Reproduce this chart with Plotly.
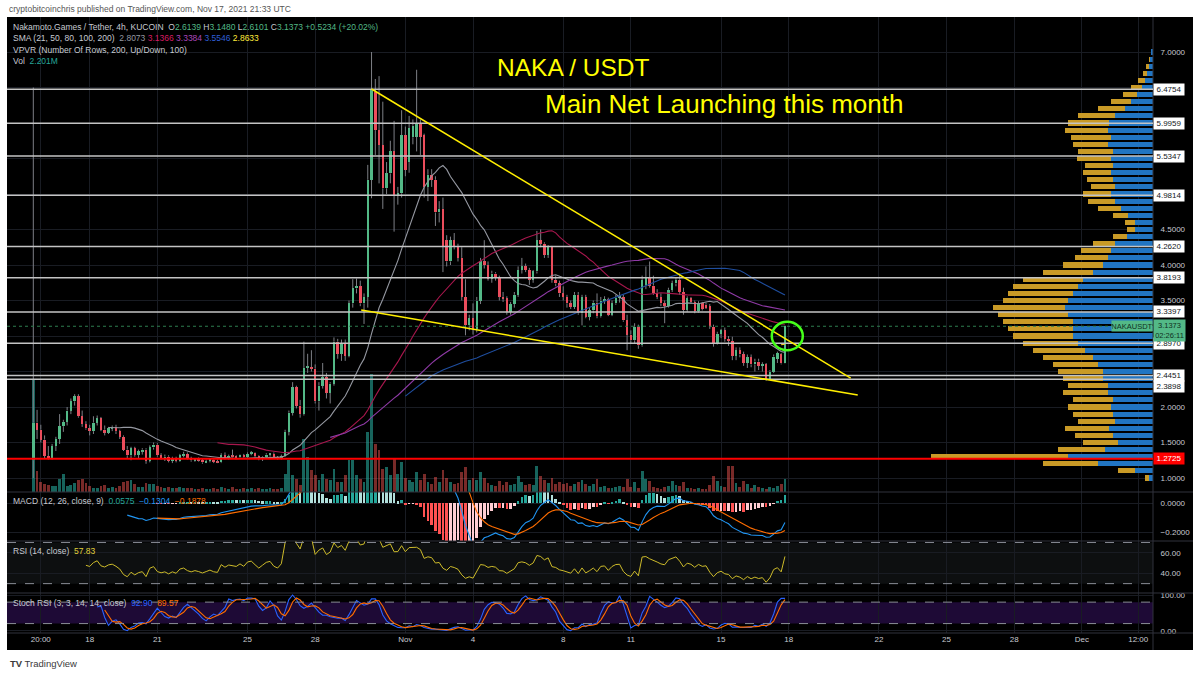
import numpy as np
import pandas as pd
import plotly.graph_objects as go

# ------------------------------------------------------------------ data
bar_times = pd.date_range("2021-10-15 12:00", periods=201, freq="4h")

opens = [
    1.25, 1.78, 1.68, 1.54, 1.31, 1.28, 1.45, 1.55, 1.73, 1.79,
    1.95, 2.08, 2.15, 1.87, 1.76, 1.70, 1.66, 1.78, 1.84, 1.68,
    1.64, 1.70, 1.72, 1.66, 1.58, 1.40, 1.32, 1.42, 1.33, 1.38,
    1.40, 1.24, 1.43, 1.47, 1.32, 1.28, 1.30, 1.24, 1.28, 1.24,
    1.32, 1.34, 1.28, 1.25, 1.27, 1.25, 1.22, 1.24, 1.26, 1.23,
    1.22, 1.32, 1.28, 1.31, 1.30, 1.29, 1.32, 1.29, 1.34, 1.35,
    1.31, 1.27, 1.30, 1.33, 1.34, 1.29, 1.27, 1.31, 1.65, 1.92,
    2.28, 2.02, 1.90, 2.55, 2.56, 2.54, 2.08, 2.30, 2.42, 2.20,
    2.33, 2.92, 2.75, 2.90, 2.72, 3.46, 3.67, 3.70, 3.46, 3.55,
    5.20, 6.44, 5.90, 5.69, 5.08, 5.29, 5.60, 4.99, 5.01, 5.83,
    5.45, 5.80, 5.81, 5.98, 5.83, 5.10, 5.27, 5.20, 4.74, 4.79,
    4.35, 4.05, 4.35, 4.26, 4.10, 3.55, 3.15, 3.25, 3.10, 3.50,
    4.05, 4.00, 3.81, 3.88, 3.82, 3.55, 3.53, 3.34, 3.45, 3.58,
    3.93, 3.98, 3.93, 3.79, 3.91, 4.35, 4.30, 4.14, 4.25, 3.79,
    3.74, 3.60, 3.55, 3.46, 3.41, 3.58, 3.32, 3.55, 3.27, 3.36,
    3.47, 3.28, 3.50, 3.52, 3.30, 3.46, 3.54, 3.55, 3.22, 3.02,
    2.94, 3.13, 2.87, 3.72, 3.82, 3.71, 3.61, 3.55, 3.46, 3.42,
    3.65, 3.74, 3.79, 3.62, 3.37, 3.53, 3.48, 3.35, 3.46, 3.44,
    3.42, 3.13, 2.90, 3.03, 3.08, 2.96, 2.93, 2.72, 2.80, 2.74,
    2.62, 2.70, 2.60, 2.64, 2.58, 2.60, 2.40, 2.50, 2.68, 2.74,
    2.6139,
]
highs = [
    6.50, 1.96, 1.75, 1.60, 1.45, 1.48, 1.58, 1.90, 1.82, 2.00,
    2.12, 2.18, 2.18, 1.95, 1.80, 1.75, 1.87, 1.88, 1.86, 1.74,
    1.72, 1.74, 1.75, 1.68, 1.60, 1.45, 1.44, 1.44, 1.40, 1.42,
    1.42, 1.46, 1.50, 1.49, 1.35, 1.33, 1.32, 1.30, 1.30, 1.34,
    1.37, 1.36, 1.30, 1.28, 1.29, 1.27, 1.26, 1.27, 1.27, 1.26,
    1.35, 1.36, 1.33, 1.40, 1.32, 1.33, 1.34, 1.36, 1.38, 1.36,
    1.32, 1.31, 1.35, 1.35, 1.36, 1.31, 1.33, 1.68, 1.95, 2.35,
    2.30, 2.10, 2.92, 2.75, 2.80, 2.60, 2.35, 2.62, 2.48, 2.35,
    2.98, 2.96, 2.95, 2.95, 3.50, 3.80, 3.81, 3.78, 3.60, 5.41,
    7.00, 6.62, 6.66, 6.30, 5.45, 5.75, 6.03, 5.10, 6.18, 5.95,
    6.10, 6.05, 6.75, 6.05, 5.85, 5.35, 5.35, 5.25, 4.90, 4.95,
    4.42, 4.40, 4.45, 4.30, 4.25, 3.80, 3.30, 3.46, 3.55, 4.10,
    4.35, 4.05, 3.92, 3.90, 3.85, 3.62, 3.56, 3.48, 3.62, 3.98,
    4.10, 4.02, 3.96, 3.93, 4.48, 4.50, 4.32, 4.28, 4.27, 3.85,
    3.78, 3.70, 3.58, 3.50, 3.62, 3.62, 3.58, 3.58, 3.40, 3.50,
    3.60, 3.55, 3.56, 3.54, 3.50, 3.58, 3.62, 3.58, 3.30, 3.08,
    3.18, 3.16, 3.85, 3.98, 4.05, 3.85, 3.66, 3.60, 3.50, 3.68,
    3.78, 3.82, 3.88, 3.68, 3.56, 3.55, 3.50, 3.49, 3.48, 3.47,
    3.45, 3.16, 3.06, 3.10, 3.12, 3.00, 2.99, 2.84, 2.84, 2.78,
    2.74, 2.74, 2.68, 2.68, 2.63, 2.62, 2.52, 2.74, 2.78, 2.76,
    3.1480,
]
lows = [
    1.00, 1.55, 1.50, 1.27, 1.26, 1.26, 1.38, 1.48, 1.65, 1.74,
    1.90, 2.02, 1.85, 1.72, 1.68, 1.60, 1.62, 1.74, 1.66, 1.60,
    1.62, 1.66, 1.62, 1.55, 1.38, 1.28, 1.25, 1.30, 1.28, 1.33,
    1.20, 1.22, 1.40, 1.30, 1.26, 1.24, 1.22, 1.21, 1.22, 1.23,
    1.29, 1.26, 1.23, 1.23, 1.23, 1.20, 1.21, 1.22, 1.21, 1.21,
    1.21, 1.26, 1.26, 1.29, 1.27, 1.27, 1.28, 1.28, 1.32, 1.29,
    1.25, 1.24, 1.28, 1.30, 1.28, 1.26, 1.26, 1.30, 1.60, 1.88,
    1.98, 1.85, 1.88, 2.48, 2.50, 2.05, 1.95, 2.26, 2.12, 2.05,
    2.30, 2.68, 2.65, 2.65, 2.70, 3.40, 3.60, 3.42, 3.17, 3.40,
    4.94, 5.55, 5.15, 4.79, 5.00, 5.15, 4.47, 4.85, 4.95, 5.25,
    5.30, 5.70, 5.60, 5.55, 4.95, 4.90, 5.10, 4.55, 4.60, 3.90,
    3.98, 4.00, 4.22, 4.05, 3.50, 3.01, 3.08, 3.02, 3.05, 3.45,
    3.95, 3.78, 3.75, 3.78, 3.50, 3.48, 3.30, 3.30, 3.40, 3.55,
    3.88, 3.90, 3.72, 3.75, 3.88, 4.25, 4.10, 4.10, 3.75, 3.70,
    3.55, 3.50, 3.40, 3.38, 3.38, 3.30, 3.15, 3.25, 3.22, 3.32,
    3.25, 3.26, 3.45, 3.28, 3.28, 3.44, 3.47, 3.20, 2.80, 2.90,
    2.90, 2.82, 2.85, 3.66, 3.68, 3.58, 3.52, 3.42, 3.18, 3.40,
    3.62, 3.70, 3.58, 3.30, 3.34, 3.45, 3.32, 3.33, 3.36, 3.38,
    3.10, 2.85, 2.88, 2.97, 2.92, 2.86, 2.66, 2.66, 2.70, 2.58,
    2.55, 2.56, 2.50, 2.52, 2.50, 2.37, 2.38, 2.48, 2.62, 2.60,
    2.6101,
]
closes = [
    1.78, 1.68, 1.54, 1.31, 1.28, 1.45, 1.55, 1.73, 1.79, 1.95,
    2.08, 2.15, 1.87, 1.76, 1.70, 1.66, 1.78, 1.84, 1.68, 1.64,
    1.70, 1.72, 1.66, 1.58, 1.40, 1.32, 1.42, 1.33, 1.38, 1.40,
    1.24, 1.43, 1.47, 1.32, 1.28, 1.30, 1.24, 1.28, 1.24, 1.32,
    1.34, 1.28, 1.25, 1.27, 1.25, 1.22, 1.24, 1.26, 1.23, 1.22,
    1.32, 1.28, 1.31, 1.30, 1.29, 1.32, 1.29, 1.34, 1.35, 1.31,
    1.27, 1.30, 1.33, 1.34, 1.29, 1.27, 1.31, 1.65, 1.92, 2.28,
    2.02, 1.90, 2.55, 2.56, 2.54, 2.08, 2.30, 2.42, 2.20, 2.33,
    2.92, 2.75, 2.90, 2.72, 3.46, 3.67, 3.70, 3.46, 3.55, 5.20,
    6.46, 5.90, 5.69, 5.08, 5.29, 5.60, 4.99, 5.01, 5.83, 5.34,
    5.93, 5.96, 5.98, 5.81, 5.10, 5.27, 5.20, 4.74, 4.79, 4.26,
    4.05, 4.35, 4.26, 4.10, 3.55, 3.15, 3.25, 3.10, 3.50, 4.05,
    4.00, 3.81, 3.88, 3.82, 3.55, 3.53, 3.34, 3.45, 3.58, 3.93,
    3.98, 3.93, 3.79, 3.91, 4.35, 4.30, 4.14, 4.25, 3.79, 3.74,
    3.60, 3.55, 3.46, 3.41, 3.58, 3.32, 3.55, 3.27, 3.36, 3.47,
    3.28, 3.50, 3.52, 3.30, 3.46, 3.54, 3.55, 3.22, 3.02, 2.94,
    3.13, 2.87, 3.79, 3.82, 3.71, 3.61, 3.55, 3.46, 3.42, 3.65,
    3.74, 3.79, 3.62, 3.37, 3.53, 3.48, 3.35, 3.46, 3.38, 3.40,
    3.13, 2.90, 3.03, 3.08, 2.96, 2.93, 2.72, 2.80, 2.74, 2.62,
    2.70, 2.60, 2.64, 2.58, 2.60, 2.40, 2.50, 2.71, 2.76, 2.614,
    3.1373,
]
volumes_m = [
    19.2, 3.55, 1.7, 1.35, 1.2, 1.0, 1.0, 2.2, 3.05, 1.0,
    1.2, 1.5, 2.0, 2.2, 1.5, 1.0, 0.7, 0.7, 1.0, 1.2,
    0.7, 0.85, 0.7, 1.0, 1.7, 1.9, 2.0, 1.35, 0.85, 0.85,
    1.5, 1.35, 1.35, 1.0, 0.85, 0.7, 0.85, 0.7, 0.7, 0.85,
    0.7, 0.7, 0.7, 0.5, 0.5, 0.7, 0.5, 0.5, 0.7, 0.5,
    0.85, 0.7, 0.5, 0.85, 0.5, 0.5, 0.7, 0.5, 0.7, 0.5,
    0.7, 0.5, 0.5, 0.7, 0.5, 0.5, 0.7, 3.05, 5.45, 2.9,
    2.2, 1.2, 9.0, 5.95, 3.75, 2.9, 2.0, 3.05, 2.2, 2.0,
    3.9, 1.7, 1.7, 2.9, 5.45, 5.45, 2.9, 2.2, 1.7, 10.2,
    20.05, 8.15, 7.15, 3.9, 4.25, 2.9, 5.6, 3.05, 5.1, 2.4,
    2.0, 1.7, 3.4, 2.0, 3.05, 1.7, 1.35, 2.55, 1.7, 3.75,
    2.4, 1.7, 1.35, 1.5, 3.4, 4.25, 2.0, 2.4, 2.0, 3.4,
    2.4, 1.5, 1.2, 1.0, 1.9, 1.2, 1.7, 1.2, 1.35, 2.7,
    1.7, 1.2, 1.35, 1.2, 4.4, 2.7, 2.0, 1.5, 2.4, 1.35,
    1.7, 1.35, 1.5, 1.0, 1.35, 1.7, 2.0, 1.35, 1.0, 1.35,
    2.2, 0.85, 1.0, 0.7, 0.7, 0.85, 1.0, 0.85, 2.2, 0.85,
    1.7, 0.7, 3.55, 2.2, 1.9, 0.85, 0.7, 0.5, 0.85, 1.0,
    1.9, 1.2, 1.0, 1.7, 0.7, 0.7, 0.5, 0.7, 0.5, 0.5,
    1.2, 2.7, 1.9, 1.0, 0.85, 4.4, 4.4, 1.5, 0.85, 1.9,
    1.35, 0.7, 1.2, 0.85, 0.7, 0.5, 0.85, 0.7, 1.0, 1.35,
    2.201,
]

sma_periods = [21, 50, 80, 100, 200]
sma_colors = ["#9598a1", "#a8174d", "#8f3aa6", "#1f4e9f", "#e6cf1e"]

levels = [6.4754, 5.9959, 5.5347, 4.9814, 4.2620, 3.8193, 3.3397, 2.8970, 2.4451, 2.3898]
red_level = 1.2725
last_price = 3.1373
countdown = "02:26:11"

trend_upper_t = ["2021-10-30 12:00", "2021-11-20 18:00"]
trend_upper_p = [6.479, 2.408]
trend_lower_t = ["2021-10-30 01:00", "2021-11-21 01:30"]
trend_lower_p = [3.366, 2.169]

circle_t = ["2021-11-17 06:00", "2021-11-18 15:00"]
circle_p = [2.80, 3.20]

# volume profile (visible range), rows of 0.1
vp_price = [round(1.0 + 0.1 * k, 1) for k in range(61)]
vp_up = [4, 18, 55, 85, 48, 35, 40, 44, 38, 40,
         42, 40, 45, 45, 50, 50, 55, 60, 68, 75,
         80, 80, 80, 85, 88, 85, 80, 75, 70, 60,
         50, 45, 42, 38, 26, 18, 18, 25, 32, 38,
         42, 38, 40, 42, 40, 42, 40, 45, 42, 45,
         44, 38, 28, 22, 16, 11, 8, 6, 4, 3, 2]
vp_down = [4, 17, 55, 137, 47, 35, 38, 44, 37, 40,
           43, 40, 45, 40, 40, 45, 45, 50, 52, 55,
           60, 65, 70, 70, 72, 65, 65, 65, 60, 50,
           40, 33, 30, 22, 14, 8, 10, 15, 23, 27,
           28, 24, 26, 28, 28, 34, 35, 35, 40, 43,
           41, 37, 27, 20, 14, 11, 7, 4, 3, 1, 0]

price_ticks = [1.0, 1.5, 2.0, 2.5, 3.0, 3.5, 4.0, 4.5, 5.0, 5.5, 6.0, 6.5, 7.0]
price_tick_text = ["1.0000", "1.5000", "2.0000", "", "", "3.5000", "4.0000", "4.5000",
                   "", "", "", "", "7.0000"]
tick_vals = ["2021-10-15 20:00", "2021-10-18", "2021-10-21", "2021-10-25", "2021-10-28",
             "2021-11-01", "2021-11-04", "2021-11-08", "2021-11-11", "2021-11-15",
             "2021-11-18", "2021-11-22", "2021-11-25", "2021-11-28", "2021-12-01",
             "2021-12-03 12:00"]
tick_text = ["20:00", "18", "21", "25", "28", "Nov", "4", "8", "11", "15",
             "18", "22", "25", "28", "Dec", "12:00"]

# ------------------------------------------------------------------ indicators
c = pd.Series(closes, dtype=float)


def seeded_avg(s, n, alpha):
    s = pd.Series(s, dtype=float).reset_index(drop=True)
    out = np.full(len(s), np.nan)
    first = s.first_valid_index()
    start = first + n - 1
    out[start] = s.iloc[first:start + 1].mean()
    for i in range(start + 1, len(s)):
        out[i] = alpha * s.iloc[i] + (1 - alpha) * out[i - 1]
    return pd.Series(out)


def ema(s, n):
    return seeded_avg(s, n, 2.0 / (n + 1))


def rma(s, n):
    return seeded_avg(s, n, 1.0 / n)


smas = {p: c.rolling(p).mean() for p in sma_periods}
macd = ema(c, 12) - ema(c, 26)
signal = ema(macd, 9)
hist = macd - signal

chg = c.diff()
up = rma(chg.clip(lower=0), 14)
dn = rma((-chg).clip(lower=0), 14)
rsi = 100 - 100 / (1 + up / dn)
lo = rsi.rolling(14, min_periods=1).min()
hi = rsi.rolling(14, min_periods=1).max()
st = (100 * (rsi - lo) / (hi - lo)).replace([np.inf, -np.inf], np.nan)
st[(hi - lo) == 0] = np.nan
k_line = st.rolling(3).mean()
d_line = k_line.rolling(3).mean()

# ------------------------------------------------------------------ styling
UP, DOWN = "#53b987", "#eb4d5c"
WICK = "#7d7f85"
GRID = "#191c23"
TXT = "#c7cad1"
SEP = "#30333d"
FONT = "Liberation Sans"
VP_UP, VP_DOWN = "#2175c2", "#c99a26"

L, R, T, B = 7, 1153, 17, 633
W, H = 1200, 674


def fx(px):
    return (px - L) / (R - L)


def fy(py):
    return (B - py) / (B - T)


bar_ms = 4 * 3600 * 1000
x_range = ["2021-10-14 08:00", "2021-12-04 03:45"]

fig = go.Figure()

# volume (base axis of the price pane)
vol_col = ["rgba(38,166,154,0.6)" if cl >= op else "rgba(239,83,80,0.5)"
           for op, cl in zip(opens, closes)]
fig.add_trace(go.Bar(x=bar_times, y=volumes_m, width=bar_ms * 0.75,
                     marker=dict(color=vol_col, line=dict(width=0)),
                     xaxis="x", yaxis="y", hoverinfo="skip"))

# wicks
wx, wy = [], []
for t, o, h, l, cl in zip(bar_times, opens, highs, lows, closes):
    top, bot = max(o, cl), min(o, cl)
    wx += [t, t, None, t, t, None]
    wy += [h, top, None, bot, l, None]
fig.add_trace(go.Scatter(x=wx, y=wy, mode="lines", line=dict(color=WICK, width=1),
                         xaxis="x", yaxis="y2", hoverinfo="skip"))

# bodies
body_base = [min(o, cl) for o, cl in zip(opens, closes)]
body_len = [max(abs(cl - o), 0.014) for o, cl in zip(opens, closes)]
body_col = [UP if cl >= o else DOWN for o, cl in zip(opens, closes)]
fig.add_trace(go.Bar(x=bar_times, y=body_len, base=body_base, width=bar_ms * 0.66,
                     marker=dict(color=body_col, line=dict(width=0)),
                     xaxis="x", yaxis="y2", hoverinfo="skip"))

# moving averages
for p, col in zip(sma_periods, sma_colors):
    fig.add_trace(go.Scatter(x=bar_times, y=smas[p], mode="lines",
                             line=dict(color=col, width=1.1),
                             xaxis="x", yaxis="y2", hoverinfo="skip"))

# volume profile
vp_total = [u + d for u, d in zip(vp_up, vp_down)]
fig.add_trace(go.Bar(orientation="h", y=vp_price, x=vp_total, width=0.072,
                     marker=dict(color=VP_DOWN, line=dict(width=0)),
                     xaxis="x6", yaxis="y2", hoverinfo="skip"))
fig.add_trace(go.Bar(orientation="h", y=vp_price, x=vp_up, width=0.072,
                     marker=dict(color=VP_UP, line=dict(width=0)),
                     xaxis="x6", yaxis="y2", hoverinfo="skip"))

# MACD
hist_col = []
for i, hv in enumerate(hist):
    prev = hist.iloc[i - 1] if i > 0 else np.nan
    if np.isnan(hv):
        hist_col.append("#26A69A")
    elif hv >= 0:
        hist_col.append("#26A69A" if prev < hv else "#B2DFDB")
    else:
        hist_col.append("#FFCDD2" if prev < hv else "#FF5252")
fig.add_trace(go.Bar(x=bar_times, y=hist, width=bar_ms * 0.7,
                     marker=dict(color=hist_col, line=dict(width=0)),
                     xaxis="x3", yaxis="y3", hoverinfo="skip"))
fig.add_trace(go.Scatter(x=bar_times, y=macd, mode="lines", line=dict(color="#2196f3", width=1.1),
                         xaxis="x3", yaxis="y3", hoverinfo="skip"))
fig.add_trace(go.Scatter(x=bar_times, y=signal, mode="lines", line=dict(color="#ff6d00", width=1.1),
                         xaxis="x3", yaxis="y3", hoverinfo="skip"))

# RSI
fig.add_trace(go.Scatter(x=bar_times, y=rsi, mode="lines", line=dict(color="#cdbb2a", width=1),
                         xaxis="x4", yaxis="y4", hoverinfo="skip"))

# Stoch RSI
fig.add_trace(go.Scatter(x=bar_times, y=k_line, mode="lines", line=dict(color="#2962ff", width=1.1),
                         xaxis="x5", yaxis="y5", hoverinfo="skip"))
fig.add_trace(go.Scatter(x=bar_times, y=d_line, mode="lines", line=dict(color="#ff6d00", width=1.1),
                         xaxis="x5", yaxis="y5", hoverinfo="skip"))

# ------------------------------------------------------------------ shapes
shapes = [
    dict(type="rect", xref="paper", yref="paper", x0=fx(7), x1=fx(1193), y0=fy(650), y1=fy(17),
         fillcolor="#000000", line=dict(width=0), layer="below"),
    dict(type="rect", xref="paper", yref="y4", x0=0, x1=1, y0=30, y1=70,
         fillcolor="#0d0f10", line=dict(width=0), layer="below"),
    dict(type="rect", xref="paper", yref="y5", x0=0, x1=1, y0=20, y1=80,
         fillcolor="#1e0a36", line=dict(width=0), layer="below"),
]
for py in [492, 541, 593, 633]:
    shapes.append(dict(type="line", xref="paper", yref="paper", x0=fx(7), x1=fx(1193),
                       y0=fy(py), y1=fy(py), line=dict(color=SEP, width=1)))
shapes.append(dict(type="line", xref="paper", yref="paper", x0=1, x1=1, y0=fy(650), y1=1,
                   line=dict(color=SEP, width=1)))
for yv in [70, 30]:
    shapes.append(dict(type="line", xref="paper", yref="y4", x0=0, x1=1, y0=yv, y1=yv,
                       line=dict(color="#8a8d96", width=1, dash="dash")))
for yv in [80, 20]:
    shapes.append(dict(type="line", xref="paper", yref="y5", x0=0, x1=1, y0=yv, y1=yv,
                       line=dict(color="#8a8d96", width=1, dash="dash")))
for lv in levels:
    shapes.append(dict(type="line", xref="paper", yref="y2", x0=0, x1=1, y0=lv, y1=lv,
                       line=dict(color="#c4c4c4", width=1.5)))
shapes.append(dict(type="line", xref="paper", yref="y2", x0=0, x1=1, y0=red_level, y1=red_level,
                   line=dict(color="#ff0000", width=2)))
shapes.append(dict(type="line", xref="paper", yref="y2", x0=0, x1=1, y0=last_price, y1=last_price,
                   line=dict(color="#2e7d4f", width=1, dash="dot")))
shapes.append(dict(type="line", xref="x", yref="y2", x0=trend_upper_t[0], x1=trend_upper_t[1],
                   y0=trend_upper_p[0], y1=trend_upper_p[1], line=dict(color="#ffee00", width=1.5)))
shapes.append(dict(type="line", xref="x", yref="y2", x0=trend_lower_t[0], x1=trend_lower_t[1],
                   y0=trend_lower_p[0], y1=trend_lower_p[1], line=dict(color="#ffee00", width=1.5)))
shapes.append(dict(type="circle", xref="x", yref="y2", x0=circle_t[0], x1=circle_t[1],
                   y0=circle_p[0], y1=circle_p[1], line=dict(color="#45ff1a", width=2.5)))

# ------------------------------------------------------------------ annotations
ann = []


def txt(px, py, text, size=8.5, color=TXT, anchor="left", **kw):
    ann.append(dict(xref="paper", yref="paper", x=fx(px), y=fy(py), text=text, showarrow=False,
                    xanchor=anchor, yanchor="middle", font=dict(family=FONT, size=size, color=color), **kw))


def sp(t, col):
    return f'<span style="color:{col}">{t}</span>'


G = "#53b987"
txt(7, 9, "cryptobitcoinchris published on TradingView.com, Nov 17, 2021 21:33 UTC", size=8.5, color="#555555")
txt(11, 27, "Nakamoto.Games / Tether, 4h, KUCOIN  O" + sp("2.6139", G) + " H" + sp("3.1480", G)
    + " L" + sp("2.6101", G) + " C" + sp("3.1373", G) + " " + sp("+0.5234 (+20.02%)", G))
txt(11, 38.5, "SMA (21, 50, 80, 100, 200)  " + sp("2.8073", "#9598a1") + " " + sp("3.1366", "#d81b60")
    + " " + sp("3.3384", "#ab47bc") + " " + sp("3.5546", "#2f5fd8") + " " + sp("2.8633", "#ffeb3b"))
txt(11, 50, "VPVR (Number Of Rows, 200, Up/Down, 100)")
txt(11, 61.5, "Vol  " + sp("2.201M", "#26a69a"))
txt(11, 501, "MACD (12, 26, close, 9)  " + sp("0.0575", "#26a69a") + "  " + sp("−0.1304", "#2196f3")
    + "  " + sp("−0.1878", "#ff6d00"))
txt(11, 551, "RSI (14, close)  " + sp("57.83", "#e0cf3a"))
txt(11, 603, "Stoch RSI (3, 3, 14, 14, close)  " + sp("92.90", "#2962ff") + "  " + sp("89.57", "#ff6d00"))
txt(573, 68, "NAKA / USDT", size=24.5, color="#ffff00", anchor="center")
txt(724, 104, "Main Net Launching this month", size=26, color="#ffff00", anchor="center")
txt(8, 663, "<b>TV</b> TradingView", size=9.5, color="#3a3a3a")

for lv in levels:
    ann.append(dict(xref="paper", yref="y2", x=1, y=lv, xanchor="left", yanchor="middle",
                    yshift=(-7 if lv == 2.3898 else 0), text=f"{lv:.4f}", showarrow=False,
                    bgcolor="#ffffff", width=30, height=11, borderpad=0,
                    font=dict(family=FONT, size=8, color="#131722")))
ann.append(dict(xref="paper", yref="y2", x=1, y=red_level, xanchor="left", yanchor="middle",
                text=f"{red_level:.4f}", showarrow=False, bgcolor="#ff0000", width=30, height=11,
                borderpad=0, font=dict(family=FONT, size=8, color="#ffffff")))
ann.append(dict(xref="paper", yref="y2", x=1, y=last_price, xanchor="left", yanchor="middle",
                yshift=-4, text=f"{last_price:.4f}<br>{countdown}", showarrow=False, bgcolor=G,
                width=31, height=21, borderpad=0, font=dict(family=FONT, size=7.5, color="#10311f")))
ann.append(dict(xref="paper", yref="y2", x=1, y=last_price, xanchor="right", yanchor="middle",
                text="NAKAUSDT", showarrow=False, bgcolor=G, width=40, height=10, borderpad=0,
                font=dict(family=FONT, size=7.5, color="#10311f")))

# ------------------------------------------------------------------ layout
def xax(anchor, labels=False):
    return dict(type="date", range=x_range, anchor=anchor, domain=[0, 1], showgrid=True,
                gridcolor=GRID, gridwidth=1, tickmode="array", tickvals=tick_vals,
                ticktext=tick_text, showticklabels=labels, ticks="", zeroline=False,
                showline=False, tickfont=dict(family=FONT, size=8, color=TXT), fixedrange=True)


def yax(domain, rng, ticks, fmt, anchor, text=None):
    d = dict(domain=domain, range=rng, anchor=anchor, side="right", tickmode="array",
             tickvals=ticks, tickformat=fmt, showgrid=True, gridcolor=GRID, zeroline=False,
             showline=False, ticks="outside", ticklen=5, tickcolor="rgba(0,0,0,0)",
             tickfont=dict(family=FONT, size=8, color=TXT), fixedrange=True)
    if text is not None:
        d["ticktext"] = text
    return d


y_main = [fy(492), 1]
fig.update_layout(
    width=W, height=H, margin=dict(l=L, r=W - R, t=T, b=H - B),
    paper_bgcolor="#ffffff", plot_bgcolor="#000000", showlegend=False,
    barmode="overlay", bargap=0, hovermode=False,
    font=dict(family=FONT, size=8, color=TXT),
    xaxis=xax("y"), xaxis3=xax("y3"), xaxis4=xax("y4"), xaxis5=xax("y5", True),
    xaxis6=dict(overlaying="x", anchor="y2", range=[R - L, 0], visible=False, fixedrange=True),
    yaxis=dict(domain=y_main, range=[0, 80.75], visible=False, anchor="x", fixedrange=True),
    yaxis2=dict(yax(y_main, [0.803, 7.493], price_ticks, ".4f", "x", price_tick_text), overlaying="y"),
    yaxis3=yax([fy(541), fy(492)], [-0.262, 0.076], [0.0, -0.2], ".4f", "x3"),
    yaxis4=yax([fy(593), fy(541)], [20.9, 71.4], [40, 60], ".2f", "x4"),
    yaxis5=yax([0, fy(593)], [-6.4, 105.6], [0, 100], ".2f", "x5"),
    shapes=shapes, annotations=ann,
)

fig.write_html("out.html", config={"displayModeBar": False})
